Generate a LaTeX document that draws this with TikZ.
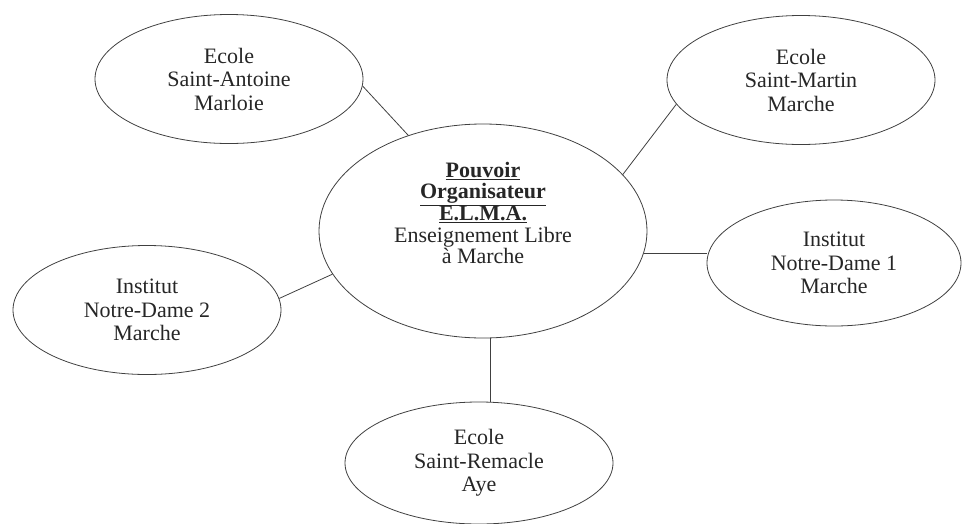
\documentclass[tikz,border=0pt]{standalone}
\usepackage{fontspec}
\setmainfont{Liberation Serif}
\usetikzlibrary{shapes.geometric}
\begin{document}
\begin{tikzpicture}[x=1pt,y=-1pt,
  bubble/.style={draw=black!75, line width=0.8pt, ellipse, inner sep=0pt, align=center,
    font=\fontsize{22}{23.5}\selectfont, text=black!85},
  small/.style={bubble, minimum width=268pt, minimum height=129pt},
  link/.style={draw=black!75, line width=0.8pt}]
\useasboundingbox (0,0) rectangle (962,523);
\node[bubble, minimum width=328pt, minimum height=214pt, font=\fontsize{22}{21}\selectfont] (c) at (483,231)
  {\begin{tabular}{@{}c@{}}\underline{\textbf{Pouvoir}}\\ \underline{\textbf{Organisateur}}\\ \underline{\textbf{E.L.M.A.}}\\ Enseignement Libre\\ à Marche\\[30pt]\end{tabular}};
\node[small] (sa) at (229,79) {Ecole\\Saint-Antoine\\Marloie};
\node[small] (sm) at (801,80) {Ecole\\Saint-Martin\\Marche};
\node[small, minimum width=254pt, minimum height=126pt] (nd1) at (834,263) {Institut\\Notre-Dame 1\\Marche};
\node[small] (nd2) at (147,310) {Institut\\Notre-Dame 2\\Marche};
\node[small, minimum height=122pt] (sr) at (479,463) {Ecole\\Saint-Remacle\\Aye};
\draw[link] (sa.-3) -- (c.128);
\draw[link] (sm.191) -- (c.22);
\draw[link] (c.-8) -- (c.-8 -| nd1.west);
\draw[link] (nd2.5) -- (c.196);
\draw[link] (c.-86) -- (c.-86 |- sr.north);
\end{tikzpicture}
\end{document}
